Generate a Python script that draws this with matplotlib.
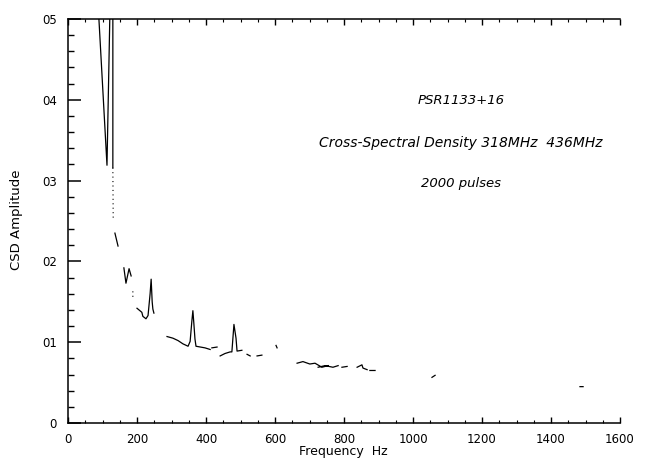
import numpy as np
import matplotlib.pyplot as plt
from matplotlib.ticker import MultipleLocator, FixedLocator

nan = np.nan

# CSD curve; NaN marks the gaps where the trace faded out
freq = [87, 113, 122, nan,
        130, 130, nan,
        136, 145, nan,
        162, 168, 177, 183, nan,
        200, 214, 217, 226, 232, 238, 241, 244, 246, 249, nan,
        287, 304, 319, 333, 348, 354, 359, 362, 365, 368, 371, 397, 412, nan,
        417, 432, nan,
        441, 455, 470, 475, 481, 487, 490, 504, nan,
        519, 528, nan,
        548, 562, nan,
        603, 606, nan,
        664, 681, 701, 716, 736, 754, nan,
        725, 745, 768, 783, nan,
        794, 809, nan,
        838, 852, 855, 867, nan,
        875, 890, nan,
        1055, 1064, nan,
        1484, 1493]
csd = [0.52, 0.319, 0.52, nan,
       0.52, 0.316, nan,
       0.235, 0.219, nan,
       0.192, 0.173, 0.191, 0.182, nan,
       0.142, 0.137, 0.132, 0.129, 0.133, 0.160, 0.178, 0.150, 0.141, 0.136, nan,
       0.107, 0.105, 0.102, 0.098, 0.095, 0.101, 0.126, 0.139, 0.122, 0.104, 0.095, 0.093, 0.091, nan,
       0.093, 0.094, nan,
       0.083, 0.086, 0.088, 0.088, 0.122, 0.105, 0.089, 0.090, nan,
       0.085, 0.083, nan,
       0.083, 0.084, nan,
       0.096, 0.093, nan,
       0.074, 0.076, 0.073, 0.074, 0.069, 0.071, nan,
       0.069, 0.071, 0.069, 0.071, nan,
       0.069, 0.070, nan,
       0.069, 0.072, 0.068, 0.066, nan,
       0.065, 0.065, nan,
       0.0565, 0.059, nan,
       0.045, 0.045]

# faint dotted bits of the trace
dot_freq = [130, 131, nan, 188, 188]
dot_csd = [0.316, 0.254, nan, 0.163, 0.153]

yticks = [0, 0.1, 0.2, 0.3, 0.4, 0.5]
ytick_labels = ['0', '01', '02', '03', '04', '05']
xticks = [0, 200, 400, 600, 800, 1000, 1200, 1400, 1600]
xtick_labels = ['0', '200', '400', '600', '800', '1000', '1200', '1400', '1600']

fig = plt.figure(figsize=(6.47, 4.58), dpi=100)
ax = fig.add_axes([68 / 647, 1 - 423 / 458, 552 / 647, 404 / 458])

ax.plot(freq, csd, color='black', lw=0.9)
ax.plot(dot_freq, dot_csd, color='black', lw=0.8, ls=(0, (1, 3)))

ax.set_xlim(0, 1600)
ax.set_ylim(0, 0.5)

ax.spines['right'].set_visible(False)
for s in ['left', 'top', 'bottom']:
    ax.spines[s].set_linewidth(1.1)

ax.yaxis.set_major_locator(FixedLocator(yticks))
ax.set_yticklabels(ytick_labels)
ax.yaxis.set_minor_locator(MultipleLocator(0.02))
ax.xaxis.set_major_locator(FixedLocator(xticks))
ax.set_xticklabels(xtick_labels)
ax.xaxis.set_minor_locator(MultipleLocator(50))

ax.tick_params(axis='y', which='major', direction='in', length=9, width=1.1,
               labelsize=8.5, pad=8, right=False)
ax.tick_params(axis='y', which='minor', direction='in', length=4.5, width=1, right=False)
ax.tick_params(axis='x', which='major', direction='in', length=4, width=1,
               labelsize=8.5, pad=7, top=True)
ax.tick_params(axis='x', which='minor', direction='in', length=2, width=0.8, top=True)

fig.text(343 / 647, 1 - 452 / 458, 'Frequency  Hz', ha='center', va='center', fontsize=9)
fig.text(17 / 647, 1 - 220 / 458, 'CSD Amplitude', ha='center', va='center',
         rotation=90, fontsize=9.5)

ax.text(1139, 0.399, 'PSR1133+16', ha='center', va='center', fontsize=9.5, style='italic')
ax.text(1139, 0.346, 'Cross-Spectral Density 318MHz  436MHz', ha='center', va='center',
        fontsize=10, style='italic')
ax.text(1139, 0.296, '2000 pulses', ha='center', va='center', fontsize=9.5, style='italic')

fig.savefig('out.png', dpi=100)
